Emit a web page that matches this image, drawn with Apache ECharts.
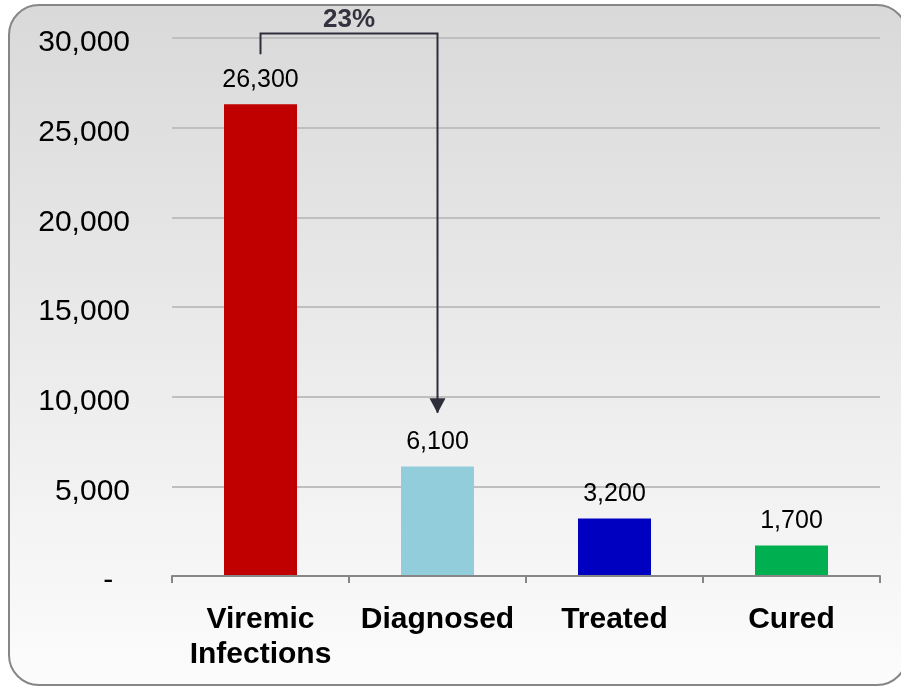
<!DOCTYPE html>
<html lang="en">
<head>
    <meta charset="UTF-8">
    <script src="https://cdn.jsdelivr.net/npm/echarts@6/dist/echarts.min.js"></script>
    <title>Cascade</title>
    <style>
        html, body { margin: 0; padding: 0; background: #ffffff; }
        #chart { width: 901px; height: 687px; }
    </style>
</head>
<body>
<div id="chart"></div>
<script>
    // data
    const categories = ['Viremic\nInfections', 'Diagnosed', 'Treated', 'Cured']
    const values = [26300, 6100, 3200, 1700]
    const barColors = ['#C00000', '#92CDDC', '#0000C0', '#00B050']
    const yMin = 0
    const yMax = 30000
    const yStep = 5000
    // bracket from bar 0 to bar 1 (y in data units)
    const bracketStartY = 29100
    const bracketTopY = 30250
    const bracketEndY = 9100

    const fmt = v => v === 0 ? '-  ' : v.toLocaleString('en-US')
    const pct = Math.round(values[1] / values[0] * 100) + '%'

    const chart = echarts.init(document.getElementById('chart'))

    const option = {
        animation: false,
        textStyle: { fontFamily: 'Liberation Sans, Arial, sans-serif' },
        graphic: [{
            type: 'rect',
            z: -10,
            silent: true,
            shape: { x: 9, y: 5, width: 898, height: 680, r: 30 },
            style: {
                fill: new echarts.graphic.LinearGradient(0, 0, 0, 1, [
                    { offset: 0, color: '#d9d9d9' },
                    { offset: 1, color: '#fcfcfc' }
                ]),
                stroke: '#868686',
                lineWidth: 2
            }
        }],
        grid: { left: 172, right: 21, top: 38, bottom: 111 },
        xAxis: {
            type: 'category',
            data: categories,
            z: 5,
            axisLine: { lineStyle: { color: '#868686', width: 2 } },
            axisTick: { show: true, interval: 0, length: 7, lineStyle: { color: '#868686', width: 2 } },
            axisLabel: {
                interval: 0,
                color: '#000',
                fontSize: 30,
                fontWeight: 'bold',
                lineHeight: 35,
                margin: 26
            }
        },
        yAxis: {
            type: 'value',
            min: yMin,
            max: yMax,
            interval: yStep,
            axisLine: { show: false },
            axisTick: { show: false },
            splitLine: { lineStyle: { color: '#bfbfbf', width: 2 } },
            axisLabel: {
                color: '#000',
                margin: 42,
                formatter: v => '{a|' + fmt(v) + '}',
                rich: {
                    a: { fontSize: 30, color: '#000', padding: [10, 0, 0, 0] }
                }
            }
        },
        series: [{
            type: 'bar',
            barWidth: 73,
            data: values.map((v, i) => ({ value: v, itemStyle: { color: barColors[i] } })),
            label: {
                show: true,
                position: 'top',
                distance: 12,
                color: '#000',
                fontSize: 25,
                formatter: p => fmt(p.value)
            }
        }, {
            type: 'lines',
            coordinateSystem: 'cartesian2d',
            polyline: true,
            clip: false,
            z: 10,
            lineStyle: { color: '#2e2e3a', width: 2, opacity: 1 },
            data: [{
                coords: [[0, bracketStartY], [0, bracketTopY], [1, bracketTopY], [1, bracketEndY]]
            }]
        }, {
            // arrow head at the end of the bracket
            type: 'scatter',
            z: 11,
            silent: true,
            symbol: 'triangle',
            symbolSize: [16, 15],
            symbolRotate: 180,
            symbolOffset: [0, -7],
            itemStyle: { color: '#2e2e3a', opacity: 1 },
            data: [[1, bracketEndY]]
        }]
    }

    chart.setOption(option)

    const p0 = chart.convertToPixel({ gridIndex: 0 }, [0, bracketTopY])
    const p1 = chart.convertToPixel({ gridIndex: 0 }, [1, bracketTopY])
    chart.setOption({
        graphic: [{}, {
            type: 'text',
            x: (p0[0] + p1[0]) / 2,
            y: p0[1] - 1,
            style: {
                text: pct,
                align: 'center',
                verticalAlign: 'bottom',
                fill: '#33333f',
                font: 'bold 26px Liberation Sans, Arial, sans-serif'
            }
        }]
    })
</script>
</body>
</html>
